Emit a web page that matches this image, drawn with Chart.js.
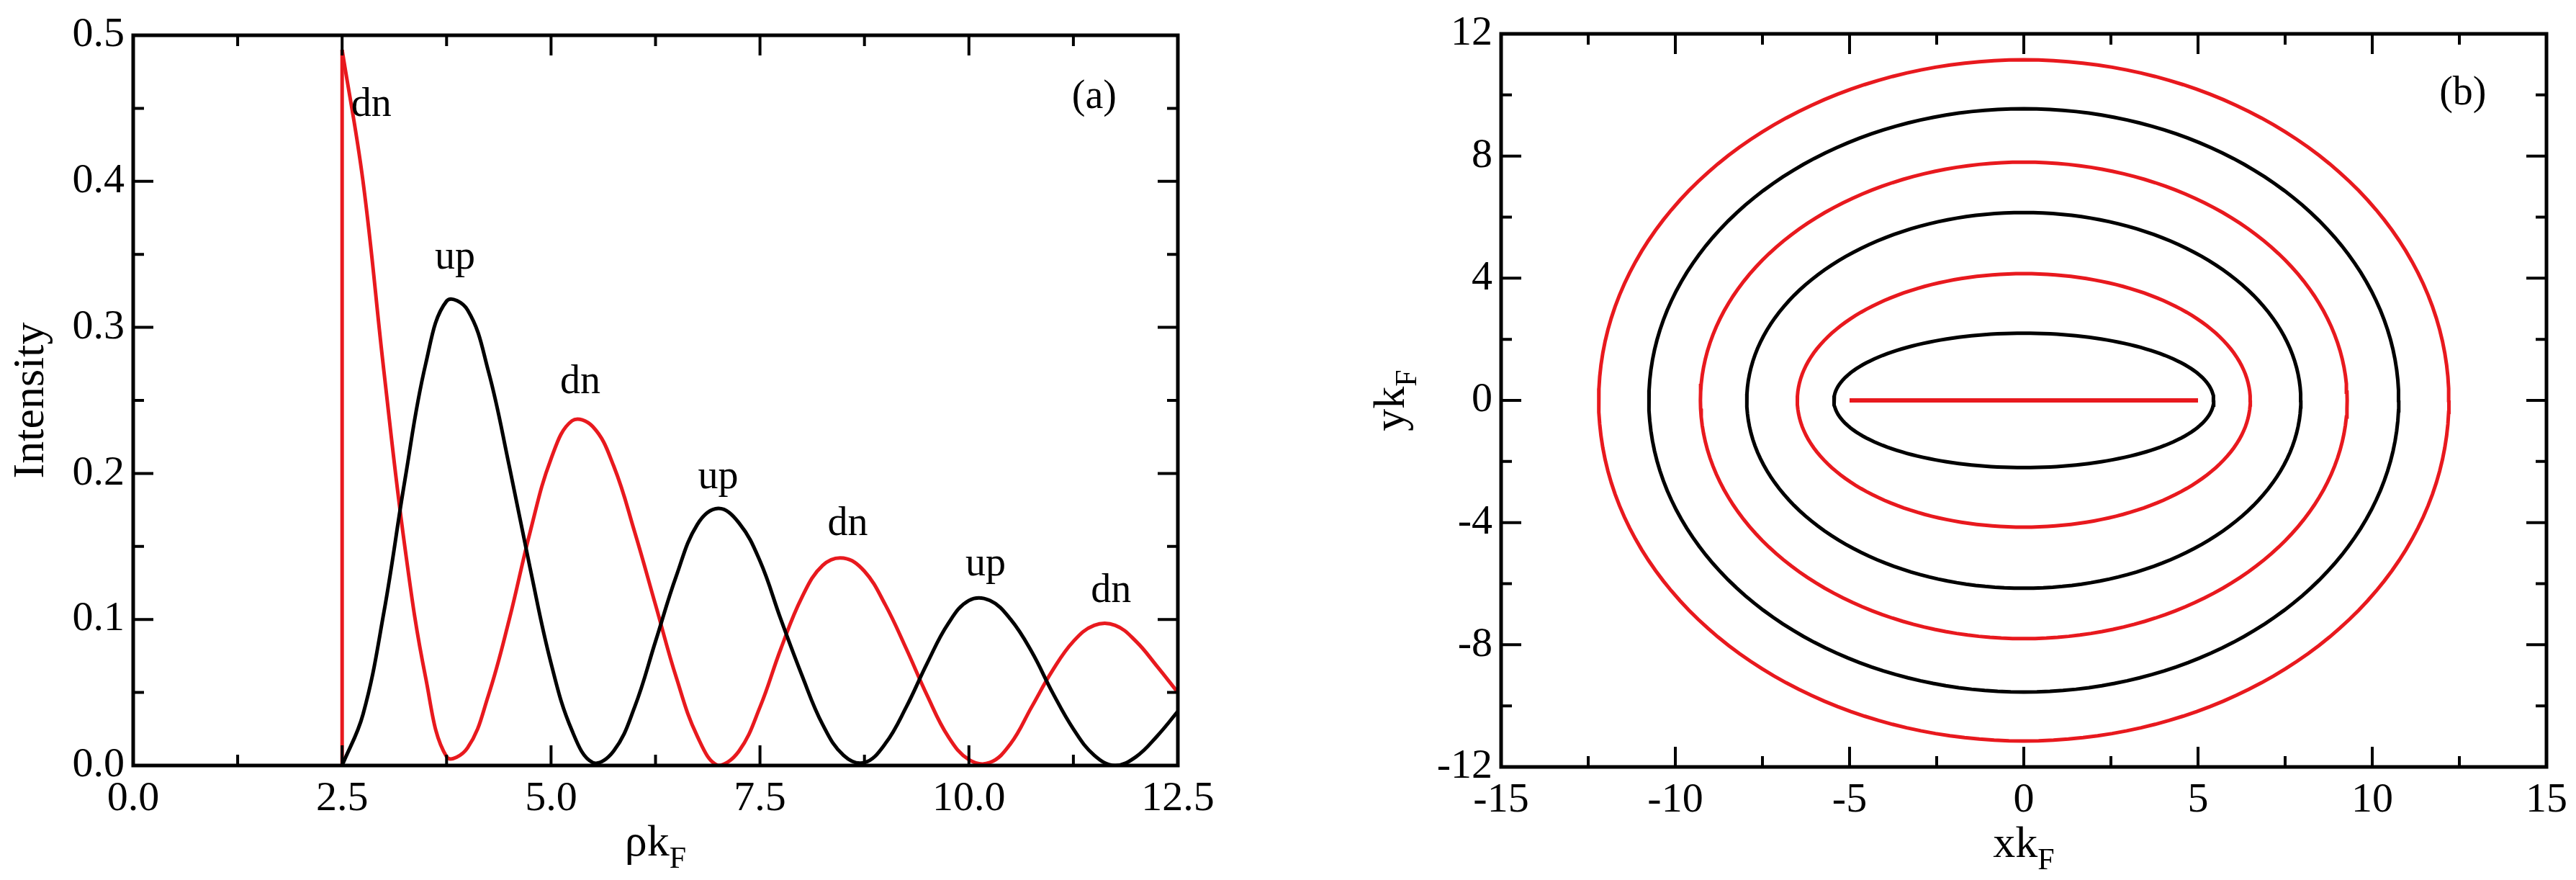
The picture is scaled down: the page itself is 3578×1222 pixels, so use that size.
<!DOCTYPE html>
<html>
<head>
<meta charset="utf-8">
<script src="https://cdn.jsdelivr.net/npm/chart.js@4/dist/chart.umd.min.js"></script>
<style>
body{margin:0;background:#fff;width:3578px;height:1222px;position:relative;overflow:hidden}
.box{position:absolute;top:0;height:1222px}
</style>
</head>
<body>
<div class="box" style="left:0;width:1700px"><canvas id="ca"></canvas></div>
<div class="box" style="left:1800px;width:1778px"><canvas id="cb"></canvas></div>
<script>
"use strict"
// panel (a)
const rho = [2.5,2.75,3.0,3.25,3.5,3.75,4.0,4.25,4.5,4.75,5.0,5.25,5.5,5.75,6.0,6.25,6.5,6.75,7.0,7.25,7.5,7.75,8.0,8.25,8.5,8.75,9.0,9.25,9.5,9.75,10.0,10.25,10.5,10.75,11.0,11.25,11.5,11.75,12.0,12.25,12.5];
const upVals = [0,0.035,0.105,0.195,0.275,0.318,0.312,0.27,0.205,0.135,0.07,0.024,0.002,0.01,0.04,0.085,0.13,0.165,0.176,0.166,0.14,0.10,0.062,0.028,0.007,0.002,0.015,0.04,0.07,0.097,0.113,0.113,0.10,0.078,0.05,0.025,0.007,0.0,0.006,0.02,0.037];
const dnVals = [0.49,0.40,0.27,0.15,0.06,0.006,0.012,0.048,0.10,0.16,0.21,0.236,0.232,0.205,0.16,0.11,0.06,0.02,0.0,0.01,0.04,0.08,0.115,0.137,0.142,0.133,0.11,0.08,0.048,0.02,0.004,0.002,0.015,0.04,0.065,0.085,0.096,0.096,0.085,0.068,0.05];
const peakLabels = ["dn","up","dn","up","dn","up","dn"];
const peakX = [2.85,3.85,5.35,7.0,8.55,10.2,11.7];
const peakY = [0.445,0.34,0.255,0.19,0.158,0.13,0.112];
// panel (b): semi-axes of the contours
const contA = [5.45,6.5,7.95,9.28,10.76,12.2];
const contB = [2.2,4.15,6.15,7.8,9.55,11.15];
const contColor = ["#000","#e8191e","#000","#e8191e","#000","#e8191e"];
const segX = [-5,5];
const segY = [0,0];

const RED = "#e8191e";
const FONT = "'Liberation Serif', 'Times New Roman', 'DejaVu Serif', serif";

function pts(xs, ys){ return xs.map((x,i)=>({x:x,y:ys[i]})); }

function frame(minorX, minorY, texts, xTitle, yTitle){
  return {
    id:"frame",
    afterDraw(chart){
      const c = chart.ctx, a = chart.chartArea;
      const sx = chart.scales.x, sy = chart.scales.y;
      c.save();
      c.strokeStyle = "#000"; c.lineWidth = 5;
      c.strokeRect(a.left, a.top, a.right-a.left, a.bottom-a.top);
      c.lineWidth = 4;
      for (let v = sx.min; v <= sx.max+1e-9; v += minorX){
        const p = sx.getPixelForValue(v);
        const maj = Math.abs(Math.round((v-sx.min)/minorX)%2)===0;
        const L = maj ? 28 : 15;
        c.beginPath(); c.moveTo(p,a.bottom); c.lineTo(p,a.bottom-L);
        c.moveTo(p,a.top); c.lineTo(p,a.top+L); c.stroke();
      }
      for (let v = sy.min; v <= sy.max+1e-9; v += minorY){
        const p = sy.getPixelForValue(v);
        const maj = Math.abs(Math.round((v-sy.min)/minorY)%2)===0;
        const L = maj ? 28 : 15;
        c.beginPath(); c.moveTo(a.left,p); c.lineTo(a.left+L,p);
        c.moveTo(a.right,p); c.lineTo(a.right-L,p); c.stroke();
      }
      c.fillStyle = "#000";
      c.textAlign = "center"; c.textBaseline = "alphabetic";
      c.font = "56px "+FONT;
      for (const t of texts){
        c.fillText(t[0], sx.getPixelForValue(t[1]), sy.getPixelForValue(t[2]));
      }
      // axis titles with subscript F
      const cx = (a.left+a.right)/2;
      c.font = "62px "+FONT;
      const w1 = c.measureText(xTitle).width;
      c.font = "42px "+FONT; const w2 = c.measureText("F").width;
      let x0 = cx-(w1+w2)/2;
      c.textAlign = "left";
      c.font = "62px "+FONT; c.fillText(xTitle, x0, a.bottom+125);
      c.font = "42px "+FONT; c.fillText("F", x0+w1, a.bottom+142);
      c.save();
      c.translate(a.left-yTitle.off, (a.top+a.bottom)/2);
      c.rotate(-Math.PI/2);
      c.font = "62px "+FONT;
      const u1 = c.measureText(yTitle.text).width;
      let u2 = 0;
      if (yTitle.sub){ c.font = "42px "+FONT; u2 = c.measureText("F").width; }
      c.font = "62px "+FONT;
      c.fillText(yTitle.text, -(u1+u2)/2, 0);
      if (yTitle.sub){ c.font = "42px "+FONT; c.fillText("F", -(u1+u2)/2+u1, 17); }
      c.restore();
      c.restore();
    }
  };
}

function axes(xmin,xmax,xstep,ymin,ymax,ystep,xdec,ydec,ylw,xh){
  const tick = {color:"#000", font:{family:FONT,size:58}, padding:12};
  return {
    x:{type:"linear",min:xmin,max:xmax,grid:{display:false,drawTicks:false},border:{display:false},
       ticks:Object.assign({stepSize:xstep,callback:v=>Number(v).toFixed(xdec),maxRotation:0},tick),
       afterFit:s=>{s.height=xh;}},
    y:{type:"linear",min:ymin,max:ymax,grid:{display:false,drawTicks:false},border:{display:false},
       ticks:Object.assign({stepSize:ystep,callback:v=>Number(v).toFixed(ydec)},tick),
       afterFit:s=>{s.width=ylw;}}
  };
}

new Chart(document.getElementById("ca"),{
  type:"line",
  data:{datasets:[
    {data:pts(rho,upVals),borderColor:"#000",borderWidth:5,pointRadius:0,tension:0.4},
    {data:pts(rho,dnVals),borderColor:RED,borderWidth:5,pointRadius:0,tension:0.4},
    {data:pts([2.5,2.5],[0,dnVals[0]]),borderColor:RED,borderWidth:5,pointRadius:0}
  ]},
  options:{responsive:true,maintainAspectRatio:false,animation:false,
    layout:{padding:{top:49,right:64,bottom:0,left:0}},
    plugins:{legend:{display:false},tooltip:{enabled:false}},
    scales:axes(0,12.5,2.5,0,0.5,0.1,1,1,185,159)},
  plugins:[frame(1.25,0.05,
    peakLabels.map((t,i)=>[t,peakX[i],peakY[i]]).concat([["(a)",11.5,0.45]]),
    "ρk",{text:"Intensity",sub:false,off:125})]
});

const ellDatasets = contA.map((a,i)=>{
  const d = [];
  for (let k=0;k<=180;k++){ const t = k/180*2*Math.PI; d.push({x:a*Math.cos(t),y:contB[i]*Math.sin(t)}); }
  return {data:d,borderColor:contColor[i],borderWidth:5,pointRadius:0,tension:0};
});
ellDatasets.push({data:pts(segX,segY),borderColor:RED,borderWidth:6,pointRadius:0});

new Chart(document.getElementById("cb"),{
  type:"line",
  data:{datasets:ellDatasets},
  options:{responsive:true,maintainAspectRatio:false,animation:false,
    layout:{padding:{top:47,right:36,bottom:0,left:0}},
    plugins:{legend:{display:false},tooltip:{enabled:false}},
    scales:axes(-15,15,5,-12,12,4,0,0,285,157)},
  plugins:[frame(2.5,2,[["(b)",12.6,9.7]],"xk",{text:"yk",sub:true,off:135})]
});
</script>
</body>
</html>
